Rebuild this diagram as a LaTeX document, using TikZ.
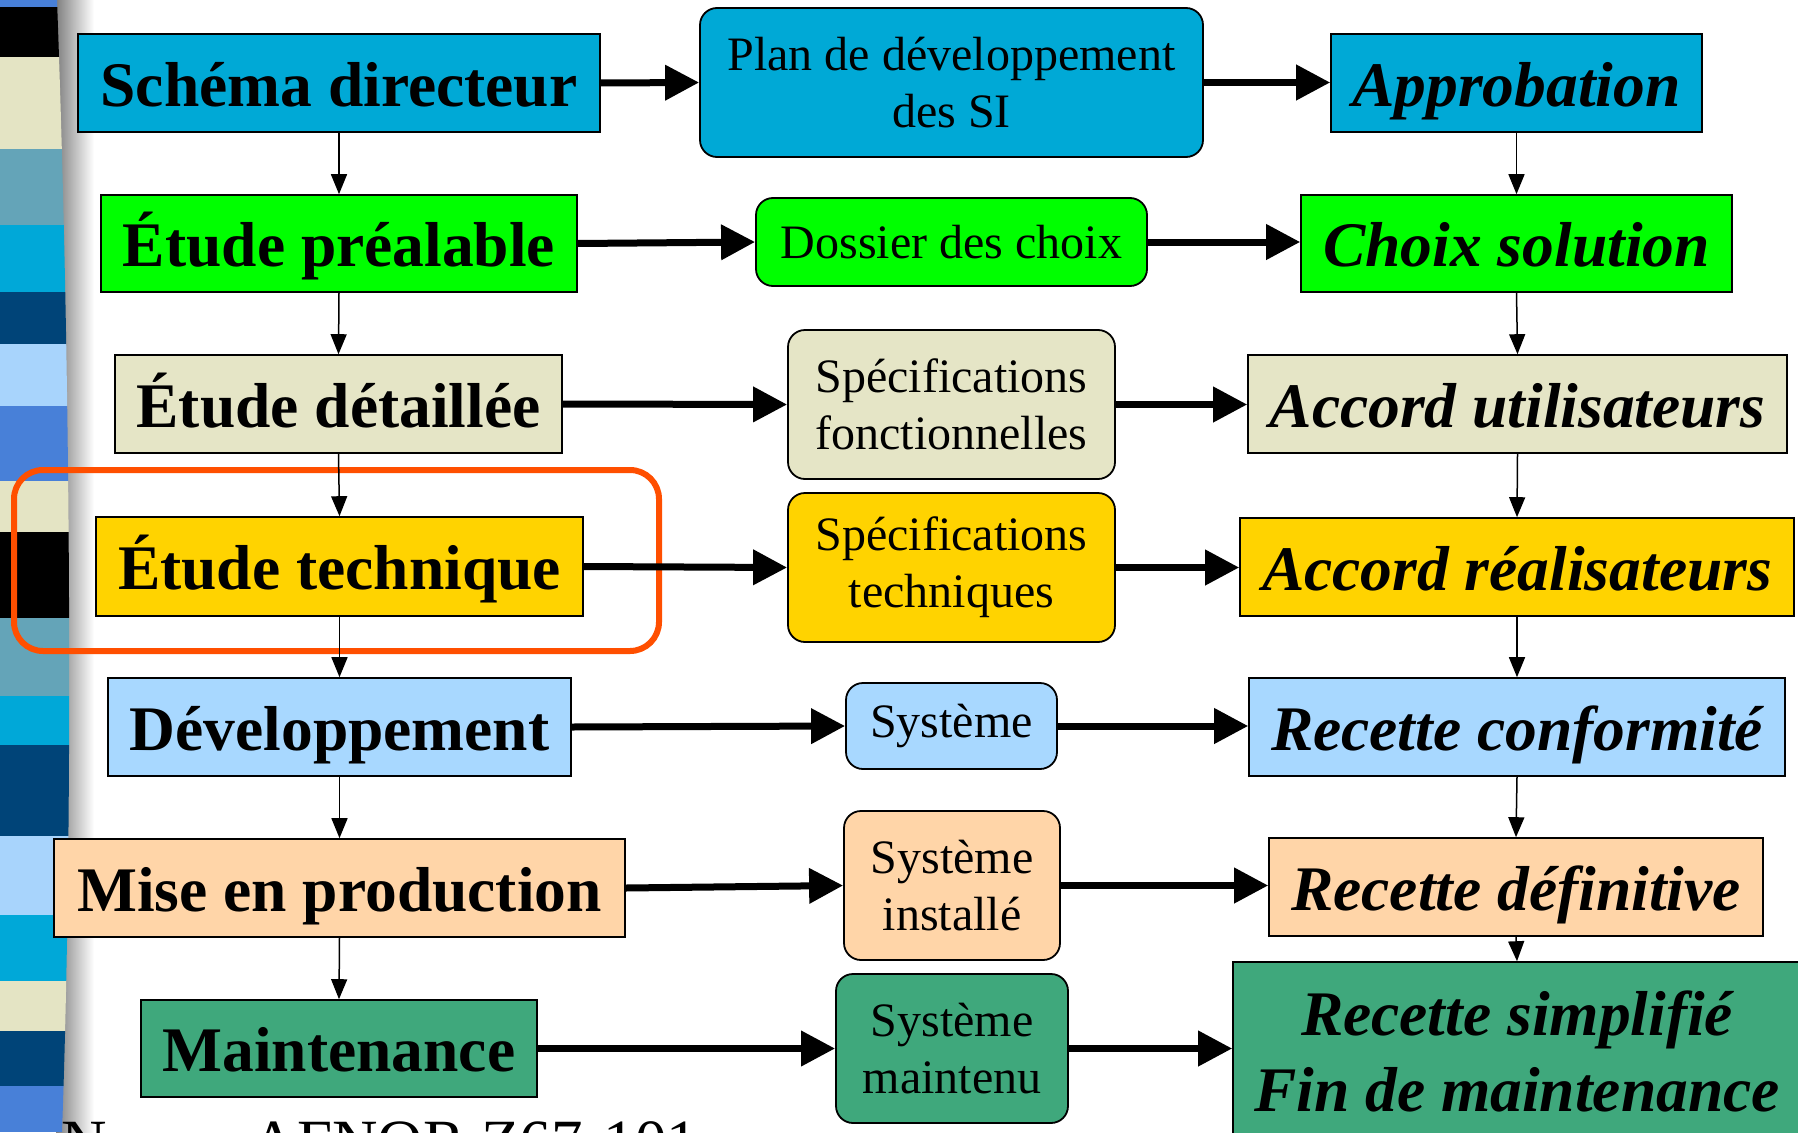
\documentclass[tikz,border=0pt]{standalone}
\usepackage{fontspec}
\setmainfont{Liberation Serif}
\usetikzlibrary{arrows.meta}
\definecolor{cCyan}{HTML}{00A9D6}
\definecolor{cGreen}{HTML}{00FF00}
\definecolor{cBeige}{HTML}{E5E5C6}
\definecolor{cGold}{HTML}{FFD300}
\definecolor{cLight}{HTML}{A8D8FF}
\definecolor{cPeach}{HTML}{FFD5A8}
\definecolor{cSea}{HTML}{3FA87C}
\definecolor{cRed}{HTML}{FF4F00}
\definecolor{sBlack}{HTML}{000000}
\definecolor{sBeige}{HTML}{E4E4C4}
\definecolor{sSteel}{HTML}{64A4B8}
\definecolor{sCyan}{HTML}{00A8D8}
\definecolor{sDark}{HTML}{004478}
\definecolor{sLight}{HTML}{A8D4FC}
\definecolor{sMed}{HTML}{4880D8}
\newcommand{\BigTxt}{\fontsize{63.5}{76}\selectfont}
\newcommand{\MidTxt}{\fontsize{48}{57}\selectfont}
\tikzset{
  wh/.style 2 args={minimum width=#1pt, minimum height=#2pt},
  lbox/.style={draw, line width=1.6pt, inner sep=0pt, font=\BigTxt\bfseries, text height=52pt, text depth=6pt},
  rbox/.style={draw, line width=1.6pt, inner sep=0pt, font=\BigTxt\bfseries\itshape, text height=52pt, text depth=6pt},
  rbox2/.style={draw, line width=1.6pt, inner sep=0pt, align=center, font=\BigTxt\bfseries\itshape},
  cbox/.style={draw, line width=1.8pt, rounded corners=17pt, inner sep=0pt, align=center, font=\MidTxt},
  harrow/.style={line width=7pt, -{Triangle[length=34pt,width=34pt]}},
  varrow/.style={line width=1.5pt, -{Triangle[length=20pt,width=16pt]}},
}
\begin{document}
\begin{tikzpicture}[x=1pt,y=-1pt]
\useasboundingbox (0,0) rectangle (1798,1132);
\clip (0,0) rectangle (1798,1132);
\fill[white] (0,0) rectangle (1798,1132);
% shadow of the striped bar
\shade[left color=black!50, right color=white] (56,0) rectangle (94,1132);
% striped bar
\begin{scope}
\clip (0,0) -- (57,0) .. controls (70,350) and (74,800) .. (62,1132) -- (0,1132) -- cycle;
\fill[sMed]   (0,0)    rectangle (100,7);
\fill[sBlack] (0,7)    rectangle (100,57);
\fill[sBeige] (0,57)   rectangle (100,149);
\fill[sSteel] (0,149)  rectangle (100,225);
\fill[sCyan]  (0,225)  rectangle (100,292);
\fill[sDark]  (0,292)  rectangle (100,344);
\fill[sLight] (0,344)  rectangle (100,406);
\fill[sMed]   (0,406)  rectangle (100,481);
\fill[sBeige] (0,481)  rectangle (100,532);
\fill[sBlack] (0,532)  rectangle (100,618);
\fill[sSteel] (0,618)  rectangle (100,696);
\fill[sCyan]  (0,696)  rectangle (100,745);
\fill[sDark]  (0,745)  rectangle (100,836);
\fill[sLight] (0,836)  rectangle (100,915);
\fill[sCyan]  (0,915)  rectangle (100,981);
\fill[sBeige] (0,981)  rectangle (100,1031);
\fill[sDark]  (0,1031) rectangle (100,1086);
\fill[sMed]   (0,1086) rectangle (100,1132);
\end{scope}
% red highlight
\draw[cRed, line width=6pt, rounded corners=29pt] (14,470) rectangle (659,651);
% left column
\node[lbox, fill=cCyan,  wh={522}{98}] (L1) at (339,83)     {Schéma directeur};
\node[lbox, fill=cGreen, wh={476}{97}] (L2) at (339,243.5)  {Étude préalable};
\node[lbox, fill=cBeige, wh={447}{98}] (L3) at (338.5,404)  {Étude détaillée};
\node[lbox, fill=cGold,  wh={487}{99}] (L4) at (339.5,566.5){Étude technique};
\node[lbox, fill=cLight, wh={463}{98}] (L5) at (339.5,727)  {Développement};
\node[lbox, fill=cPeach, wh={571}{98}] (L6) at (339.5,888)  {Mise en production};
\node[lbox, fill=cSea,   wh={396}{97}] (L7) at (339,1048.5) {Maintenance};
% centre column
\node[cbox, fill=cCyan,  wh={503}{149}] (C1) at (951.5,82.5)  {Plan de développement\\des SI};
\node[cbox, fill=cGreen, wh={391}{88}]  (C2) at (951.5,242)   {Dossier des choix};
\node[cbox, fill=cBeige, wh={327}{149}] (C3) at (951.5,404.5) {Spécifications\\fonctionnelles};
\node[cbox, fill=cGold,  wh={327}{149}] (C4) at (951.5,567.5) {Spécifications\\techniques};
\node[cbox, fill=cLight, wh={211}{86}]  (C5) at (951.5,726)   {Système};
\node[cbox, fill=cPeach, wh={216}{149}] (C6) at (952,885.5)   {Système\\installé};
\node[cbox, fill=cSea,   wh={232}{149}] (C7) at (952,1048.5)  {Système\\maintenu};
% right column
\node[rbox, fill=cCyan,  wh={371}{98}] (R1) at (1516.5,83)   {Approbation};
\node[rbox, fill=cGreen, wh={431}{97}] (R2) at (1516.5,243.5){Choix solution};
\node[rbox, fill=cBeige, wh={539}{98}] (R3) at (1517.5,404)  {Accord utilisateurs};
\node[rbox, fill=cGold,  wh={554}{98}] (R4) at (1517,567)    {Accord réalisateurs};
\node[rbox, fill=cLight, wh={536}{98}] (R5) at (1517,727)    {Recette conformité};
\node[rbox, fill=cPeach, wh={494}{98}] (R6) at (1516,887)    {Recette définitive};
\node[rbox2, fill=cSea,  wh={568}{178}] (R7) at (1517,1051)  {Recette simplifié\\Fin de maintenance};
% vertical arrows
\foreach \a/\b in {L1/L2,L2/L3,L3/L4,L4/L5,L5/L6,L6/L7,R1/R2,R2/R3,R3/R4,R4/R5,R5/R6,R6/R7}
  \draw[varrow] (\a.south) -- (\b.north);
% horizontal arrows
\foreach \i in {1,...,7}{
  \draw[harrow] (L\i.east) -- (C\i.west);
  \draw[harrow] (C\i.east) -- (C\i.east -| R\i.west);
}
% bottom caption
\node[anchor=base west, inner sep=0pt, font=\fontsize{63}{76}\selectfont] (cap) at (61,1163) {Norme AFNOR Z67-101};
\end{tikzpicture}
\end{document}
